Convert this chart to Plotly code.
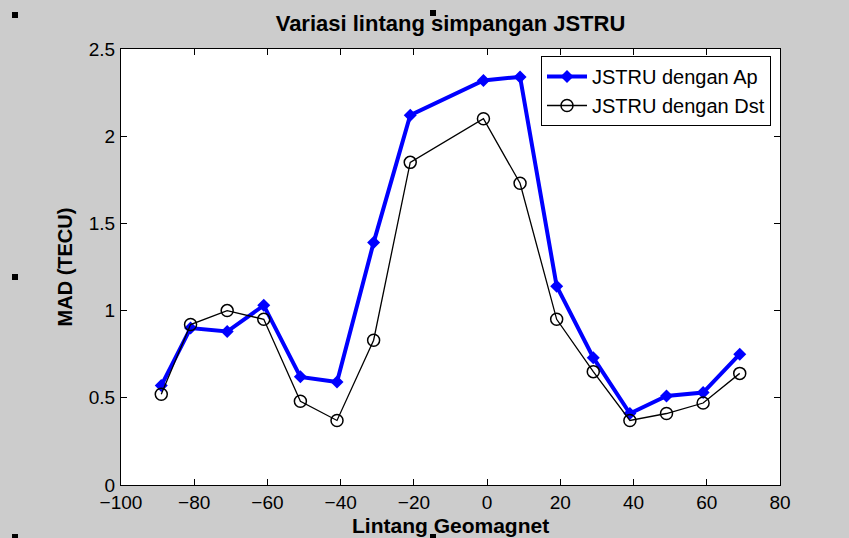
import plotly.graph_objects as go

lintang = [-89, -81, -71, -61, -51, -41, -31, -21, -1, 9, 19, 29, 39, 49, 59, 69]
mad_ap = [0.57, 0.90, 0.88, 1.03, 0.62, 0.59, 1.39, 2.12, 2.32, 2.34, 1.14, 0.73, 0.41, 0.51, 0.53, 0.75]
mad_dst = [0.52, 0.92, 1.00, 0.95, 0.48, 0.37, 0.83, 1.85, 2.10, 1.73, 0.95, 0.65, 0.37, 0.41, 0.47, 0.64]
x_ticks = [-100, -80, -60, -40, -20, 0, 20, 40, 60, 80]
y_ticks = [0, 0.5, 1, 1.5, 2, 2.5]
y_tick_labels = ["0", "0.5", "1", "1.5", "2", "2.5"]

W, H = 849, 538
L, R, T, B = 121, 69, 49, 53

fig = go.Figure()
fig.add_trace(go.Scatter(
    x=lintang, y=mad_ap, mode="lines+markers", name="JSTRU dengan Ap",
    line=dict(color="#0000ff", width=4),
    marker=dict(symbol="diamond", size=10, color="#0000ff"),
))
fig.add_trace(go.Scatter(
    x=lintang, y=mad_dst, mode="lines+markers", name="JSTRU dengan Dst",
    line=dict(color="black", width=1.3),
    marker=dict(symbol="circle-open", size=12, color="black", line=dict(width=1.5)),
))

tickfont = dict(family="Liberation Sans, Arial, sans-serif", size=19, color="black")
titlefont = dict(family="Liberation Sans, Arial, sans-serif", size=22, color="black", weight="bold")
xtitlefont = dict(family="Liberation Sans, Arial, sans-serif", size=21, color="black", weight="bold")
ytitlefont = dict(family="Liberation Sans, Arial, sans-serif", size=20, color="black", weight="bold")

pw, ph = W - L - R, H - T - B

fig.update_layout(
    width=W, height=H,
    paper_bgcolor="#cccccc", plot_bgcolor="white",
    margin=dict(l=L, r=R, t=T, b=B, autoexpand=False),
    title=dict(text="<b>Variasi lintang simpangan JSTRU</b>", x=(L + (W - R)) / 2 / W, xanchor="center",
               y=1 - 23 / H, yanchor="middle", font=titlefont),
    showlegend=True,
    legend=dict(x=(541 - L) / pw, y=1 - 7 / ph, xanchor="left", yanchor="top",
                bgcolor="white", bordercolor="black", borderwidth=1,
                font=dict(family="Liberation Sans, Arial, sans-serif", size=20, color="black"),
                itemwidth=40, tracegroupgap=0),
    xaxis=dict(range=[-100, 80], tickvals=x_ticks, ticks="inside", ticklen=6, tickcolor="black",
               showline=True, linecolor="black", linewidth=1, mirror="ticks", showgrid=False, zeroline=False,
               tickfont=tickfont, automargin=False),
    yaxis=dict(range=[0, 2.5], tickvals=y_ticks, ticktext=y_tick_labels, ticks="inside", ticklen=6,
               tickcolor="black", showline=True, linecolor="black", linewidth=1, mirror="ticks",
               showgrid=False, zeroline=False, tickfont=tickfont, ticklabelstandoff=1, automargin=False,
               title=dict(text="<b>MAD (TECU)</b>", font=ytitlefont, standoff=10)),
)
fig.add_annotation(text="<b>Lintang Geomagnet</b>", xref="paper", yref="paper",
                   x=0.5, y=-(525 - (H - B)) / ph, xanchor="center", yanchor="middle",
                   showarrow=False, font=xtitlefont)

# MATLAB figure selection handles (decorative)
def px2paper(px, py):
    return (px - L) / pw, (H - B - py) / ph
for (cx, cy) in [(15, 15), (433, 13), (15, 277), (15, 537), (433, 537)]:
    x0, y0 = px2paper(cx - 3, cy + 3)
    x1, y1 = px2paper(cx + 3, cy - 3)
    fig.add_shape(type="rect", xref="paper", yref="paper", x0=x0, y0=y0, x1=x1, y1=y1,
                  fillcolor="black", line=dict(width=0), layer="above")

fig.write_html("out.html", config={"displayModeBar": False},
               post_script="document.body.style.margin='0';document.body.style.background='#cccccc';")
